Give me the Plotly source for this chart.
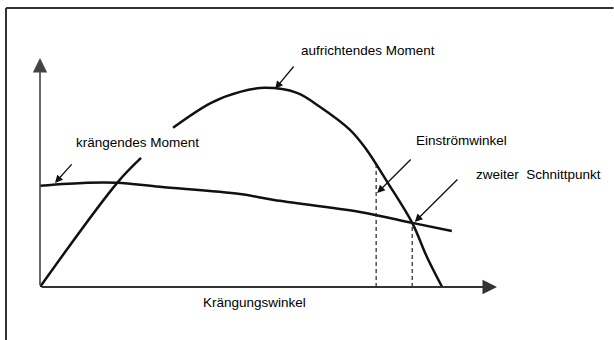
import plotly.graph_objects as go

# Schematic data: heel angle (deg) vs. moment (relative units)
heel_angle = [0, 9.3, 15.2, 23.6, 39.4, 46.1, 63.0, 73.3, 81.1]
heel_moment = [0.508, 0.523, 0.523, 0.503, 0.467, 0.437, 0.377, 0.322, 0.281]

right_angle = [0, 15.2, 19.9, None, 26.2, 33.7, 39.4, 44.3, 50.6, 55.1, 61.0, 64.0, 68.5, 73.3, 76.2, 79.2]
right_moment = [0, 0.523, 0.648, None, 0.80, 0.925, 0.98, 1.0, 0.975, 0.905, 0.79, 0.70, 0.523, 0.322, 0.151, 0]

flood_angle = 66.2
flood_moment = 0.613
second_angle = 73.3
second_moment = 0.322

X_MAX = 90
Y_MAX = 1.15

labels = {
    "righting": "aufrichtendes Moment",
    "heeling": "krängendes Moment",
    "flood": "Einströmwinkel",
    "second": "zweiter  Schnittpunkt",
    "xaxis": "Krängungswinkel",
}

FONT = dict(family="Liberation Sans, Arial, sans-serif", size=13.5, color="#000")

fig = go.Figure()
fig.add_trace(go.Scatter(x=heel_angle, y=heel_moment, mode="lines",
                         line=dict(color="#111", width=2.5, shape="spline"),
                         hoverinfo="skip"))
fig.add_trace(go.Scatter(x=right_angle, y=right_moment, mode="lines",
                         line=dict(color="#111", width=2.5, shape="spline"),
                         connectgaps=False, hoverinfo="skip"))
fig.add_trace(go.Scatter(x=[flood_angle, flood_angle], y=[0, flood_moment], mode="lines",
                         line=dict(color="#222", width=1.2, dash="4px,3px"), hoverinfo="skip"))
fig.add_trace(go.Scatter(x=[second_angle, second_angle], y=[0, second_moment], mode="lines",
                         line=dict(color="#222", width=1.2, dash="4px,3px"), hoverinfo="skip"))

ann = []
# axes with arrows
ann.append(dict(x=X_MAX, y=0, ax=0, ay=0, xref="x", yref="y", axref="x", ayref="y",
                text="", showarrow=True, arrowhead=2, arrowsize=1.45, arrowwidth=2,
                arrowcolor="#333", standoff=0))
ann.append(dict(x=0, y=Y_MAX, ax=0, ay=0, xref="x", yref="y", axref="x", ayref="y",
                text="", showarrow=True, arrowhead=2, arrowsize=1.8, arrowwidth=1.6,
                arrowcolor="#444", standoff=0))

# pointer arrows (tail, head)
pointers = [
    ((50.2, 1.115), (46.3, 0.995)),
    ((6.5, 0.623), (2.95, 0.522)),
    ((73.3, 0.648), (66.4, 0.472)),
    ((82.5, 0.547), (73.8, 0.327)),
]
for (tx, ty), (hx, hy) in pointers:
    ann.append(dict(x=hx, y=hy, ax=tx, ay=ty, xref="x", yref="y", axref="x", ayref="y",
                    text="", showarrow=True, arrowhead=2, arrowsize=1.2, arrowwidth=1.3,
                    arrowcolor="#111", standoff=0))

texts = [
    (labels["righting"], 51.0, 1.19),
    (labels["heeling"], 6.7, 0.728),
    (labels["flood"], 73.6, 0.738),
    (labels["second"], 85.5, 0.563),
    (labels["xaxis"], 31.7, -0.08),
]
for t, x, y in texts:
    ann.append(dict(x=x / X_MAX, y=y / Y_MAX, xref="paper", yref="paper", text=t,
                    showarrow=False, xanchor="left", yanchor="middle", font=FONT))

# outer frame (left and top edges)
shapes = [
    dict(type="line", xref="paper", yref="paper", x0=-0.0744, y0=1.2183, x1=-0.0744, y1=-0.25,
         line=dict(color="#333", width=2)),
    dict(type="line", xref="paper", yref="paper", x0=-0.0744, y0=1.2183, x1=1.255, y1=1.2183,
         line=dict(color="#333", width=2)),
]

fig.update_layout(
    width=614, height=340,
    margin=dict(l=40, r=117, t=58, b=53),
    paper_bgcolor="white", plot_bgcolor="white",
    showlegend=False,
    xaxis=dict(range=[0, X_MAX], visible=False, fixedrange=True),
    yaxis=dict(range=[0, Y_MAX], visible=False, fixedrange=True),
    annotations=ann, shapes=shapes,
)
fig.update_traces(cliponaxis=False)

fig.write_html("out.html", config={"displayModeBar": False},
               post_script="document.body.style.margin='0px';document.body.style.overflow='hidden';")
